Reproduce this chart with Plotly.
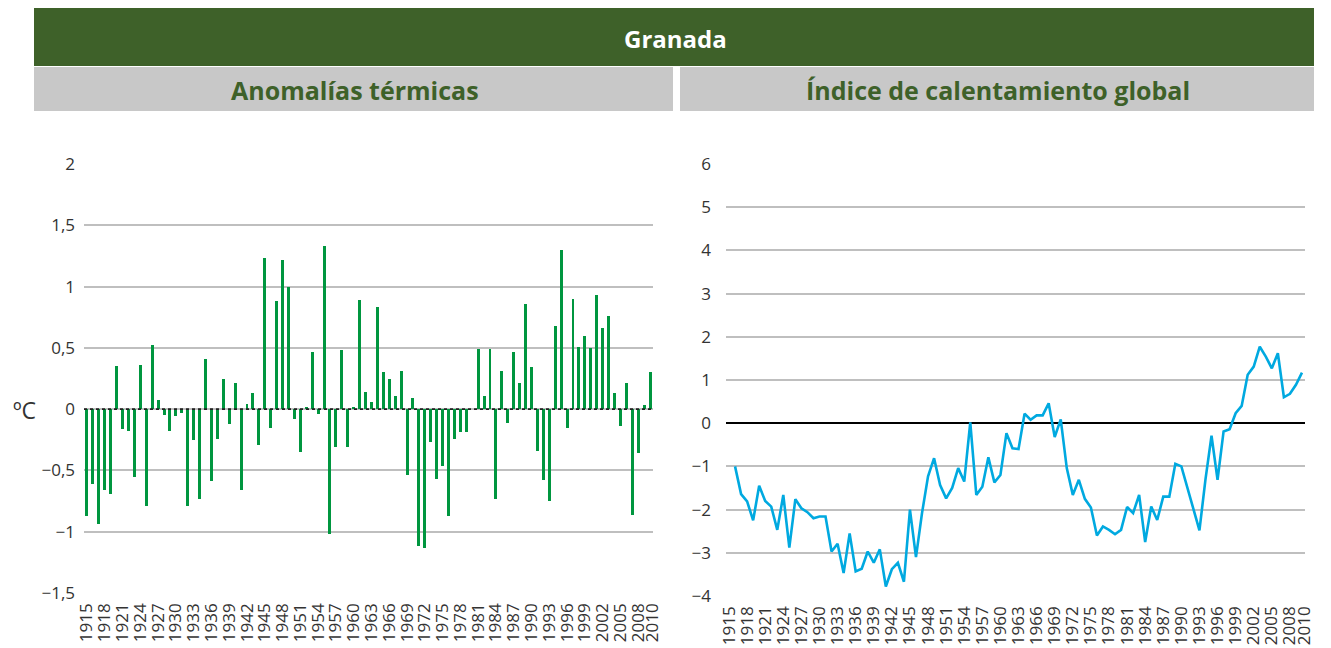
import plotly.graph_objects as go

# ---------------- data ----------------
anom_years = list(range(1915, 2011))
anom_values = [
    -0.87, -0.61, -0.935, -0.66, -0.69, 0.35, -0.165, -0.18, -0.55, 0.36,
    -0.79, 0.52, 0.076, -0.045, -0.18, -0.055, -0.035, -0.79, -0.255, -0.73,
    0.41, -0.59, -0.24, 0.25, -0.12, 0.21, -0.66, 0.045, 0.13, -0.295,
    1.23, -0.157, 0.88, 1.22, 0.995, -0.084, -0.35, 0.02, 0.47, -0.043,
    1.33, -1.02, -0.31, 0.48, -0.31, 0.02, 0.89, 0.14, 0.06, 0.83,
    0.30, 0.25, 0.11, 0.31, -0.54, 0.09, -1.12, -1.13, -0.27, -0.57,
    -0.465, -0.87, -0.24, -0.19, -0.19, 0.0, 0.49, 0.11, 0.49, -0.73,
    0.31, -0.11, 0.47, 0.21, 0.86, 0.34, -0.34, -0.58, -0.75, 0.68,
    1.30, -0.157, 0.90, 0.51, 0.60, 0.50, 0.93, 0.66, 0.76, 0.13,
    -0.14, 0.21, -0.865, -0.36, 0.03, 0.30,
]

index_years = list(range(1916, 2011))
index_values = [
    -1.0, -1.64, -1.81, -2.25, -1.45, -1.80, -1.93, -2.47, -1.66, -2.88,
    -1.76, -1.97, -2.06, -2.20, -2.16, -2.16, -2.97, -2.79, -3.47, -2.55,
    -3.43, -3.37, -2.97, -3.23, -2.92, -3.78, -3.38, -3.23, -3.67, -2.0,
    -3.1, -2.08, -1.23, -0.81, -1.43, -1.74, -1.50, -1.04, -1.35, 0.02,
    -1.66, -1.47, -0.79, -1.37, -1.20, -0.23, -0.58, -0.6, 0.22, 0.08,
    0.18, 0.18, 0.46, -0.32, 0.09, -1.04, -1.66, -1.31, -1.75, -1.95,
    -2.60, -2.39, -2.47, -2.57, -2.47, -1.94, -2.08, -1.66, -2.75, -1.93,
    -2.24, -1.70, -1.70, -0.94, -1.00, -1.50, -1.99, -2.48, -1.3, -0.29,
    -1.31, -0.19, -0.14, 0.23, 0.40, 1.12, 1.31, 1.77, 1.54, 1.27,
    1.62, 0.60, 0.68, 0.89, 1.17,
]

tick_years = list(range(1915, 2009, 3)) + [2010]
tick_text = [str(y) for y in tick_years]
left_yticks = [-1.5, -1, -0.5, 0, 0.5, 1, 1.5, 2]
right_yticks = [-4, -3, -2, -1, 0, 1, 2, 3, 4, 5, 6]

title_main = "Granada"
title_left = "Anomalías térmicas"
title_right = "Índice de calentamiento global"
unit_label = "ºC"

# ---------------- styling ----------------
# the page body has an 8px margin, so the figure is drawn 8px in from the
# window corner; all pixel targets below are window coordinates.
OFF = 8
W, H = 1331 - OFF, 648 - OFF
DARK_GREEN = "#3e6129"
GRAY_BAND = "#c8c8c8"
BAR_GREEN = "#00963f"
LINE_BLUE = "#00a9e0"
GRID = "#bfbfbf"
TXT = "#333333"
FONT = "Open Sans"


def px_x(p):
    return (p - OFF) / W


def px_y(p):
    return 1 - (p - OFF) / H


fig = go.Figure()

fig.add_trace(go.Bar(
    x=anom_years, y=anom_values, marker=dict(color=BAR_GREEN, line=dict(width=0)),
    width=0.5, xaxis="x", yaxis="y", showlegend=False,
))
fig.add_trace(go.Scatter(
    x=index_years, y=index_values, mode="lines",
    line=dict(color=LINE_BLUE, width=2.6), xaxis="x2", yaxis="y2", showlegend=False,
))

# last label ("2010") sits at the right edge of each plot
tick_positions = tick_years[:-1] + [2010.45]

x_common = dict(
    tickmode="array", tickvals=tick_positions, ticktext=tick_text, tickangle=-90,
    tickfont=dict(family=FONT, size=17, color=TXT), showgrid=False,
    zeroline=False, showline=False, ticks="", automargin=False,
    ticklabelstandoff=6,
)

fig.update_layout(
    template="none",
    width=W, height=H,
    margin=dict(l=0, r=0, t=0, b=0, pad=0),
    paper_bgcolor="white", plot_bgcolor="white",
    separators=",.",
    bargap=0,
    xaxis=dict(domain=[px_x(84), px_x(653)], range=[1914.5, 2010.5], anchor="y", **x_common),
    yaxis=dict(domain=[px_y(593), px_y(164)], range=[-1.5, 2], anchor="x",
               tickvals=left_yticks, showgrid=True, gridcolor=GRID, gridwidth=2,
               zeroline=False, showline=False, ticks="", ticklabelstandoff=8,
               automargin=False,
               tickfont=dict(family=FONT, size=17, color=TXT)),
    xaxis2=dict(domain=[px_x(726), px_x(1305)], range=[1914.5, 2010.5], anchor="y2", **x_common),
    yaxis2=dict(domain=[px_y(596), px_y(164)], range=[-4, 6], anchor="x2",
                tickvals=right_yticks, showgrid=True, gridcolor=GRID, gridwidth=2,
                zeroline=True, zerolinecolor="#000000", zerolinewidth=1.5,
                showline=False, ticks="", ticklabelstandoff=14,
                automargin=False,
                tickfont=dict(family=FONT, size=17, color=TXT)),
)

shapes = [
    dict(type="rect", xref="paper", yref="paper", x0=px_x(34), x1=px_x(1314),
         y0=px_y(66), y1=px_y(8), fillcolor=DARK_GREEN, line=dict(width=0), layer="below"),
    dict(type="rect", xref="paper", yref="paper", x0=px_x(34), x1=px_x(673),
         y0=px_y(111), y1=px_y(67), fillcolor=GRAY_BAND, line=dict(width=0), layer="below"),
    dict(type="rect", xref="paper", yref="paper", x0=px_x(680), x1=px_x(1314),
         y0=px_y(111), y1=px_y(67), fillcolor=GRAY_BAND, line=dict(width=0), layer="below"),
    dict(type="line", xref="x", yref="y", x0=1914.5, x1=2010.5, y0=0, y1=0,
         line=dict(color="#222222", width=1.6, dash="dot"), layer="above"),
]
fig.update_layout(shapes=shapes)

annotations = [
    dict(text="<b>" + title_main + "</b>", xref="paper", yref="paper",
         x=px_x(676), y=px_y(38), showarrow=False,
         font=dict(family=FONT, size=24, color="white"), xanchor="center", yanchor="middle"),
    dict(text="<b>" + title_left + "</b>", xref="paper", yref="paper",
         x=px_x(355), y=px_y(90), showarrow=False,
         font=dict(family=FONT, size=25, color=DARK_GREEN), xanchor="center", yanchor="middle"),
    dict(text="<b>" + title_right + "</b>", xref="paper", yref="paper",
         x=px_x(998), y=px_y(90), showarrow=False,
         font=dict(family=FONT, size=25, color=DARK_GREEN), xanchor="center", yanchor="middle"),
    dict(text=unit_label, xref="paper", yref="paper",
         x=px_x(24), y=px_y(410), showarrow=False,
         font=dict(family=FONT, size=23, color=TXT), xanchor="center", yanchor="middle"),
]
fig.update_layout(annotations=annotations)

fig.write_html("out.html")
